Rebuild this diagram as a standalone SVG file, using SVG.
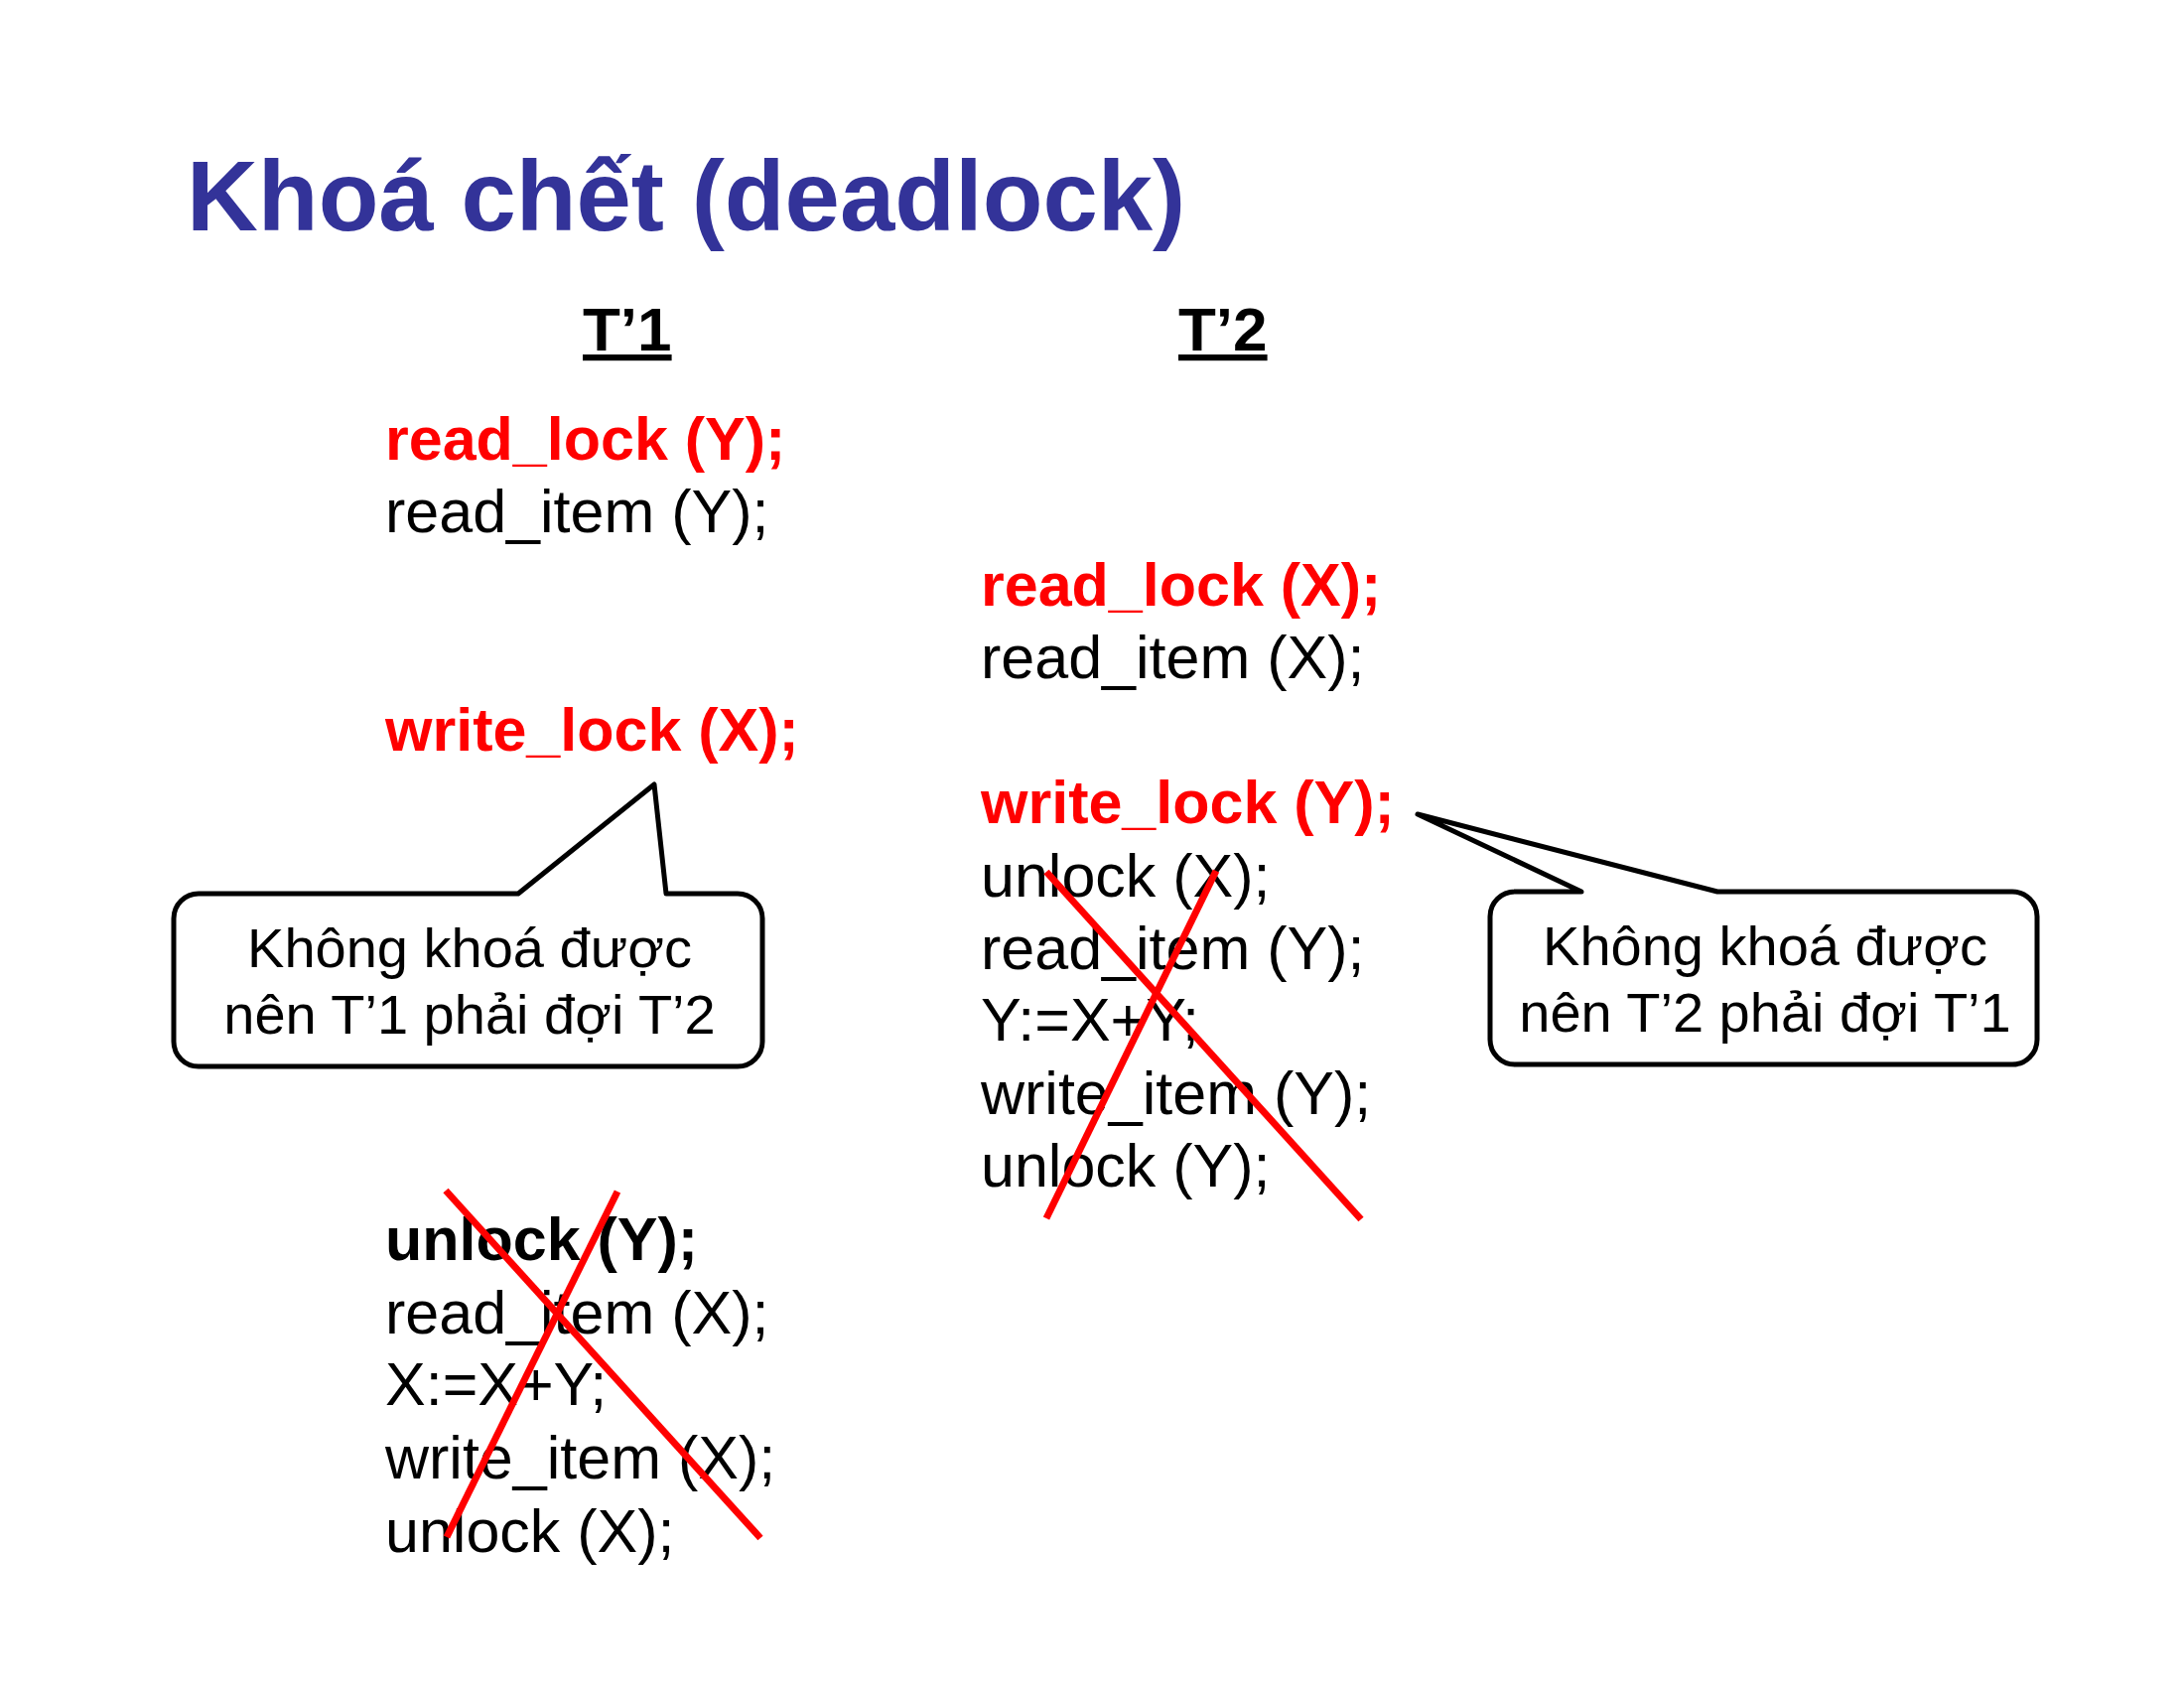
<svg xmlns="http://www.w3.org/2000/svg" width="2200" height="1700" viewBox="0 0 2200 1700">
<style>
text{font-family:"Liberation Sans",Arial,sans-serif}
.title{font-size:99.5px;font-weight:bold;fill:#333399}
.hd{font-size:62px;font-weight:bold;fill:#000;text-decoration:underline}
.code{font-size:61px;fill:#000}
.lock{font-size:61px;font-weight:bold;fill:#FF0000}
.bold{font-size:61px;font-weight:bold;fill:#000}
.note{font-size:56px;fill:#000;text-anchor:middle}
.bubble{fill:#fff;stroke:#000;stroke-width:5;stroke-linejoin:round}
.cross{stroke:#FF0000;stroke-width:7;fill:none}
</style>
<rect width="2200" height="1700" fill="#fff"/>
<g id="title"><text class="title" x="188" y="232">Khoá chết (deadlock)</text></g>
<g id="t1">
<text class="hd" x="587" y="353">T’1</text>
<text class="lock" x="388" y="463">read_lock (Y);</text>
<text class="code" x="388" y="536">read_item (Y);</text>
<text class="lock" x="388" y="756">write_lock (X);</text>
<text class="bold" x="388" y="1269">unlock (Y);</text>
<text class="code" x="388" y="1343">read_item (X);</text>
<text class="code" x="388" y="1415">X:=X+Y;</text>
<text class="code" x="388" y="1489">write_item (X);</text>
<text class="code" x="388" y="1563">unlock (X);</text>
</g>
<g id="t2">
<text class="hd" x="1187" y="353">T’2</text>
<text class="lock" x="988" y="610">read_lock (X);</text>
<text class="code" x="988" y="683">read_item (X);</text>
<text class="lock" x="988" y="829">write_lock (Y);</text>
<text class="code" x="988" y="903">unlock (X);</text>
<text class="code" x="988" y="976">read_item (Y);</text>
<text class="code" x="988" y="1048">Y:=X+Y;</text>
<text class="code" x="988" y="1122">write_item (Y);</text>
<text class="code" x="988" y="1195">unlock (Y);</text>
</g>
<g id="callout1">
<path class="bubble" d="M200,900 H522 L659,790 L671,900 H743 A25,25 0 0 1 768,925 V1049 A25,25 0 0 1 743,1074 H200 A25,25 0 0 1 175,1049 V925 A25,25 0 0 1 200,900 Z"/>
<text class="note" x="473" y="974">Không khoá được</text>
<text class="note" x="473" y="1041">nên T’1 phải đợi T’2</text>
</g>
<g id="callout2">
<path class="bubble" d="M1526,898 H1593 L1428,820 L1730,898 H2027 A25,25 0 0 1 2052,923 V1047 A25,25 0 0 1 2027,1072 H1526 A25,25 0 0 1 1501,1047 V923 A25,25 0 0 1 1526,898 Z"/>
<text class="note" x="1778" y="972">Không khoá được</text>
<text class="note" x="1778" y="1039">nên T’2 phải đợi T’1</text>
</g>
<g id="connectors">
<line class="cross" x1="449" y1="1199" x2="766" y2="1549"/>
<line class="cross" x1="622" y1="1200" x2="450" y2="1548"/>
<line class="cross" x1="1054" y1="878" x2="1371" y2="1228"/>
<line class="cross" x1="1225" y1="877" x2="1054" y2="1227"/>
</g>
</svg>
